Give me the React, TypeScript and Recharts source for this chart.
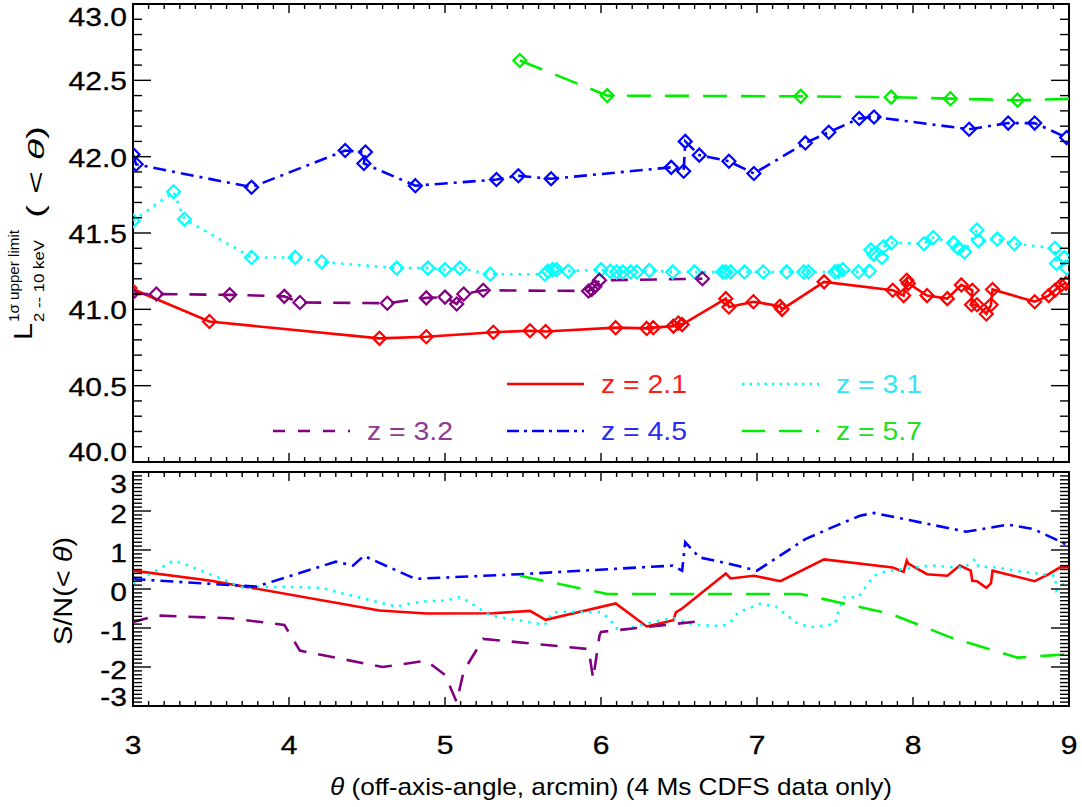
import React from "react";
import { Line, LineChart, ReferenceArea, XAxis, YAxis } from "recharts";

// ---- data ----
// upper panel: L_{2-10 keV} (< theta)
const RED_X = [2.98, 3.49, 4.58, 4.88, 5.31, 5.545, 5.645, 6.094, 6.293, 6.335, 6.464, 6.496, 6.52, 6.8, 6.82, 6.977, 7.147, 7.16, 7.43, 7.87, 7.94, 7.96, 7.97, 8.09, 8.22, 8.31, 8.38, 8.375, 8.41, 8.47, 8.5, 8.51, 8.78, 8.87, 8.91, 8.95, 8.98];
const RED_L = [41.14, 40.92, 40.81, 40.82, 40.85, 40.86, 40.855, 40.88, 40.875, 40.88, 40.89, 40.91, 40.9, 41.07, 41.015, 41.05, 41.02, 41.0, 41.18, 41.125, 41.09, 41.19, 41.17, 41.09, 41.07, 41.16, 41.125, 41.03, 41.03, 40.97, 41.03, 41.13, 41.05, 41.09, 41.125, 41.16, 41.17];

const CYAN_X = [3.0, 3.26, 3.33, 3.76, 4.04, 4.21, 4.69, 4.89, 5.0, 5.096, 5.29, 5.64, 5.66, 5.69, 5.715, 5.79, 6.0, 6.06, 6.1, 6.14, 6.19, 6.23, 6.31, 6.46, 6.6, 6.78, 6.8, 6.83, 6.92, 7.04, 7.19, 7.3, 7.33, 7.5, 7.52, 7.55, 7.65, 7.72, 7.73, 7.75, 7.8, 7.81, 7.86, 8.07, 8.13, 8.26, 8.29, 8.33, 8.41, 8.42, 8.54, 8.65, 8.91, 8.92, 8.97, 8.985];
const CYAN_L = [41.58, 41.77, 41.59, 41.34, 41.34, 41.31, 41.27, 41.27, 41.26, 41.27, 41.23, 41.23, 41.25, 41.26, 41.26, 41.25, 41.26, 41.25, 41.245, 41.245, 41.245, 41.245, 41.255, 41.245, 41.245, 41.245, 41.245, 41.245, 41.245, 41.245, 41.245, 41.245, 41.245, 41.245, 41.25, 41.26, 41.245, 41.25, 41.39, 41.36, 41.34, 41.41, 41.435, 41.43, 41.47, 41.435, 41.4, 41.375, 41.52, 41.45, 41.46, 41.43, 41.4, 41.3, 41.34, 41.27];

const PURPLE_X = [2.99, 3.15, 3.62, 3.97, 4.07, 4.63, 4.88, 5.0, 5.075, 5.12, 5.245, 5.92, 5.94, 5.96, 5.99, 6.65];
const PURPLE_L = [41.1, 41.1, 41.095, 41.085, 41.045, 41.04, 41.075, 41.08, 41.035, 41.1, 41.125, 41.12, 41.13, 41.15, 41.19, 41.2];

const BLUE_X = [3.0, 3.02, 3.76, 4.36, 4.49, 4.48, 4.81, 5.33, 5.47, 5.68, 6.45, 6.53, 6.54, 6.63, 6.82, 6.98, 7.31, 7.46, 7.655, 7.75, 8.36, 8.61, 8.78, 8.985];
const BLUE_L = [42.015, 41.95, 41.8, 42.04, 42.03, 41.955, 41.81, 41.85, 41.875, 41.855, 41.93, 41.905, 42.1, 42.01, 41.97, 41.89, 42.09, 42.16, 42.25, 42.26, 42.18, 42.22, 42.22, 42.125];

const GREEN_X = [5.48, 6.04, 7.28, 7.86, 8.24, 8.67, 9.05];
const GREEN_L = [42.63, 42.4, 42.395, 42.39, 42.38, 42.37, 42.38];

// lower panel: S/N (< theta)
const RED_SN_X = [2.98, 3.49, 4.58, 4.88, 5.31, 5.545, 5.645, 6.094, 6.293, 6.464, 6.48, 6.52, 6.8, 6.83, 6.98, 7.15, 7.43, 7.87, 7.94, 7.96, 7.97, 8.09, 8.22, 8.3, 8.37, 8.38, 8.41, 8.47, 8.5, 8.51, 8.78, 8.87, 8.94, 9.0];
const RED_SN = [0.48, 0.22, -0.55, -0.63, -0.62, -0.56, -0.79, -0.37, -0.96, -0.8, -0.6, -0.5, 0.4, 0.27, 0.34, 0.2, 0.76, 0.55, 0.44, 0.73, 0.65, 0.38, 0.34, 0.6, 0.47, 0.21, 0.2, 0.03, 0.15, 0.47, 0.2, 0.38, 0.55, 0.56];

const CYAN_SN_X = [3.0, 3.26, 3.33, 3.73, 3.76, 4.04, 4.21, 4.33, 4.69, 4.78, 4.89, 5.0, 5.1, 5.18, 5.29, 5.64, 5.69, 5.79, 6.0, 6.06, 6.09, 6.14, 6.31, 6.46, 6.6, 6.78, 6.83, 6.88, 7.02, 7.12, 7.25, 7.34, 7.5, 7.52, 7.56, 7.65, 7.71, 7.75, 7.81, 7.86, 8.07, 8.13, 8.28, 8.33, 8.4, 8.42, 8.54, 8.65, 8.91, 8.92, 8.96, 9.0];
const CYAN_SN = [0.13, 0.73, 0.64, 0.0, 0.05, 0.05, 0.03, -0.1, -0.45, -0.37, -0.31, -0.3, -0.2, -0.4, -0.68, -0.92, -0.6, -0.58, -0.6, -0.78, -1.0, -1.05, -0.87, -0.74, -0.92, -0.95, -0.85, -0.6, -0.38, -0.45, -0.86, -0.98, -0.9, -0.6, -0.21, -0.21, 0.13, 0.34, 0.43, 0.47, 0.58, 0.6, 0.55, 0.55, 0.77, 0.58, 0.55, 0.47, 0.34, -0.04, 0.12, 0.05];

const PURPLE_SN_X = [2.99, 3.15, 3.62, 3.97, 4.07, 4.6, 4.88, 5.0, 5.075, 5.12, 5.245, 5.92, 5.95, 5.99, 6.0, 6.65];
const PURPLE_SN = [-0.86, -0.68, -0.75, -0.92, -1.58, -2.0, -1.84, -2.2, -2.9, -2.1, -1.28, -1.54, -2.3, -1.2, -1.1, -0.82];

const BLUE_SN_X = [3.0, 3.02, 3.79, 4.3, 4.41, 4.48, 4.81, 5.48, 6.46, 6.52, 6.54, 6.63, 6.82, 7.0, 7.31, 7.47, 7.66, 7.75, 8.34, 8.61, 8.77, 9.0];
const BLUE_SN = [0.3, 0.25, 0.06, 0.7, 0.6, 0.85, 0.26, 0.38, 0.6, 0.47, 1.2, 0.81, 0.65, 0.47, 1.28, 1.56, 1.88, 1.95, 1.47, 1.65, 1.54, 1.11];

const GREEN_SN_X = [5.48, 6.04, 7.28, 7.86, 8.24, 8.67, 9.0];
const GREEN_SN = [0.34, -0.13, -0.13, -0.64, -1.24, -1.76, -1.67];

// axis ticks
const X_MAJOR = [3, 4, 5, 6, 7, 8, 9];
const L_MAJOR = [40.0, 40.5, 41.0, 41.5, 42.0, 42.5, 43.0];
const SN_MAJOR = [-3, -2, -1, 0, 1, 2, 3];

const LEGEND = [
  { label: "z = 2.1", color: "#ff0000", text: "#ff1a1a", dash: undefined, legendDash: undefined },
  { label: "z = 3.1", color: "#00ffff", text: "#33e6f2", dash: "2.5 6", legendDash: "2.5 5" },
  { label: "z = 3.2", color: "#800080", text: "#8f3a92", dash: "17 12", legendDash: "12 13" },
  { label: "z = 4.5", color: "#0000ff", text: "#2b2bf0", dash: "13 6 3 6", legendDash: "12 5 3 5" },
  { label: "z = 5.7", color: "#00ee00", text: "#22dd22", dash: "24 14", legendDash: "23 14" },
];

const zip = (xs: number[], ys: number[]) => xs.map((x, i) => ({ x, y: ys[i] }));

const fineTicks = (lo: number, hi: number, step: number) => {
  const out: number[] = [];
  const n = Math.round((hi - lo) / step);
  for (let i = 0; i <= n; i++) out.push(+(lo + i * step).toFixed(3));
  return out;
};

const X_TICKS = fineTicks(3, 9, 0.1);
const L_TICKS = fineTicks(40, 43, 0.1);
const SN_TICKS = fineTicks(-3, 3, 0.1);

const FONT = "'Liberation Sans', Arial, Helvetica, sans-serif";
const isMajor = (v: number, majors: number[]) => majors.some((m) => Math.abs(m - v) < 1e-6);

function XTick(props: any) {
  const { x, y, payload, top, showLabel, labelDy } = props;
  const major = isMajor(payload.value, X_MAJOR);
  const len = major ? 9 : 5;
  return (
    <g>
      <line x1={x} x2={x} y1={y} y2={y - len} stroke="#000" strokeWidth={1.4} />
      <line x1={x} x2={x} y1={top} y2={top + len} stroke="#000" strokeWidth={1.4} />
      {showLabel && major && (
        <text
          transform={`translate(${x},${y + labelDy}) scale(1.2,1)`}
          textAnchor="middle"
          fontSize={25}
          fontFamily={FONT}
          fill="#000"
          stroke="#000"
          strokeWidth={0.3}
        >
          {payload.value}
        </text>
      )}
    </g>
  );
}

function YTick(props: any) {
  const { x, y, payload, right, majors, lo, hi, digits, topShift, bottomShift, shift } = props;
  const v = payload.value;
  const major = isMajor(v, majors);
  const len = major ? 18 : 9;
  let cy = y + shift;
  if (Math.abs(v - hi) < 1e-6) cy = y + topShift;
  if (Math.abs(v - lo) < 1e-6) cy = y + bottomShift;
  return (
    <g>
      <line x1={x} x2={x + len} y1={y} y2={y} stroke="#000" strokeWidth={1.4} />
      <line x1={right} x2={right - len} y1={y} y2={y} stroke="#000" strokeWidth={1.4} />
      {major && (
        <text
          transform={`translate(${x - 6},${cy + 9}) scale(1.2,1)`}
          textAnchor="end"
          fontSize={25}
          fontFamily={FONT}
          fill="#000"
          stroke="#000"
          strokeWidth={0.3}
        >
          {v.toFixed(digits)}
        </text>
      )}
    </g>
  );
}

const makeDiamond = (color: string) => (p: any) => {
  const { cx, cy, index } = p;
  if (cx == null || cy == null) return <g key={`d-${index}`} />;
  const r = 6.5;
  return (
    <path
      key={`d-${index}`}
      d={`M${cx},${cy - r}L${cx + r},${cy}L${cx},${cy + r}L${cx - r},${cy}Z`}
      fill="none"
      stroke={color}
      strokeWidth={2.2}
    />
  );
};

const TOP_SERIES = [
  { data: zip(RED_X, RED_L), ...LEGEND[0] },
  { data: zip(CYAN_X, CYAN_L), ...LEGEND[1] },
  { data: zip(PURPLE_X, PURPLE_L), ...LEGEND[2] },
  { data: zip(BLUE_X, BLUE_L), ...LEGEND[3] },
  { data: zip(GREEN_X, GREEN_L), ...LEGEND[4] },
];

const BOTTOM_SERIES = [
  { data: zip(RED_SN_X, RED_SN), ...LEGEND[0] },
  { data: zip(CYAN_SN_X, CYAN_SN), ...LEGEND[1] },
  { data: zip(PURPLE_SN_X, PURPLE_SN), ...LEGEND[2] },
  { data: zip(BLUE_SN_X, BLUE_SN), ...LEGEND[3] },
  { data: zip(GREEN_SN_X, GREEN_SN), ...LEGEND[4] },
];

function Overlay() {
  const row1 = 384;
  const row2 = 431;
  const items = [
    { s: LEGEND[0], x: 507, y: row1 },
    { s: LEGEND[1], x: 742, y: row1 },
    { s: LEGEND[2], x: 273, y: row2 },
    { s: LEGEND[3], x: 507, y: row2 },
    { s: LEGEND[4], x: 742, y: row2 },
  ];
  return (
    <svg
      width={1082}
      height={807}
      style={{ position: "absolute", left: 0, top: 0, pointerEvents: "none" }}
      fontFamily={FONT}
    >
      {items.map(({ s, x, y }) => (
        <g key={s.label}>
          <line x1={x} x2={x + 77} y1={y} y2={y} stroke={s.color} strokeWidth={2.6} strokeDasharray={s.legendDash} />
          <text x={x + 94} y={y + 9} fontSize={25} fill={s.text} textLength={86} lengthAdjust="spacingAndGlyphs">
            {s.label}
          </text>
        </g>
      ))}

      {/* x title */}
      <text x={611} y={795} fontSize={24} textAnchor="middle" textLength={562} lengthAdjust="spacingAndGlyphs">
        <tspan fontStyle="italic">θ</tspan> (off-axis-angle, arcmin) (4 Ms CDFS data only)
      </text>

      {/* lower y title */}
      <g transform="rotate(-90)">
        <text x={-591} y={72} fontSize={26} textAnchor="middle" textLength={108} lengthAdjust="spacingAndGlyphs">
          S/N(&lt; <tspan fontStyle="italic">θ</tspan>)
        </text>
      </g>

      {/* upper y title */}
      <g transform="rotate(-90)">
        <text x={-340} y={32} fontSize={25} textLength={17} lengthAdjust="spacingAndGlyphs">L</text>
        <text x={-322} y={19} fontSize={14} textLength={92} lengthAdjust="spacingAndGlyphs">1σ upper limit</text>
        <text x={-322} y={44} fontSize={14} textLength={82} lengthAdjust="spacingAndGlyphs">2 -- 10 keV</text>
        <text x={-218} y={44} fontSize={23} textLength={92} lengthAdjust="spacingAndGlyphs">
          ( &lt; <tspan fontStyle="italic">θ</tspan>)
        </text>
      </g>
    </svg>
  );
}

function Panel({
  series,
  height,
  axisHeight,
  yDomain,
  yTicks,
  yMajors,
  digits,
  topShift,
  bottomShift,
  shift,
  markers,
  showXLabels,
}: any) {
  return (
    <LineChart width={1082} height={height} margin={{ top: 4, right: 13, bottom: 0, left: 0 }}>
      <XAxis
        dataKey="x"
        type="number"
        domain={[3, 9]}
        ticks={X_TICKS}
        interval={0}
        allowDataOverflow
        height={axisHeight}
        tickSize={0}
        tickMargin={0}
        tickLine={false}
        axisLine={false}
        tick={<XTick top={4} showLabel={showXLabels} labelDy={48} />}
      />
      <YAxis
        type="number"
        domain={yDomain}
        ticks={yTicks}
        interval={0}
        allowDataOverflow
        width={133}
        tickSize={0}
        tickMargin={0}
        tickLine={false}
        axisLine={false}
        tick={
          <YTick
            right={1069}
            majors={yMajors}
            lo={yDomain[0]}
            hi={yDomain[1]}
            digits={digits}
            topShift={topShift}
            bottomShift={bottomShift}
            shift={shift}
          />
        }
      />
      {series.map((s: any) => (
        <Line
          key={s.label}
          data={s.data}
          dataKey="y"
          type="linear"
          stroke={s.color}
          strokeWidth={2.6}
          strokeDasharray={s.dash}
          dot={markers ? makeDiamond(s.color) : false}
          activeDot={false}
          isAnimationActive={false}
        />
      ))}
      <ReferenceArea
        x1={3}
        x2={9}
        y1={yDomain[0]}
        y2={yDomain[1]}
        fill="none"
        fillOpacity={0}
        stroke="#000"
        strokeWidth={2}
        ifOverflow="visible"
      />
    </LineChart>
  );
}

export default function App() {
  return (
    <div
      style={{
        position: "absolute",
        left: 0,
        top: 0,
        width: 1082,
        height: 807,
        background: "#fff",
        fontFamily: FONT,
      }}
    >
      <div style={{ position: "absolute", left: 0, top: 0 }}>
        <Panel
          series={TOP_SERIES}
          height={470}
          axisHeight={8}
          yDomain={[40, 43]}
          yTicks={L_TICKS}
          yMajors={L_MAJOR}
          digits={1}
          topShift={13}
          bottomShift={-10}
          shift={1}
          markers
          showXLabels={false}
        />
      </div>
      <div style={{ position: "absolute", left: 0, top: 468 }}>
        <Panel
          series={BOTTOM_SERIES}
          height={339}
          axisHeight={101}
          yDomain={[-3, 3]}
          yTicks={SN_TICKS}
          yMajors={SN_MAJOR}
          digits={0}
          topShift={12}
          bottomShift={-9}
          shift={3}
          markers={false}
          showXLabels
        />
      </div>
      <Overlay />
    </div>
  );
}
